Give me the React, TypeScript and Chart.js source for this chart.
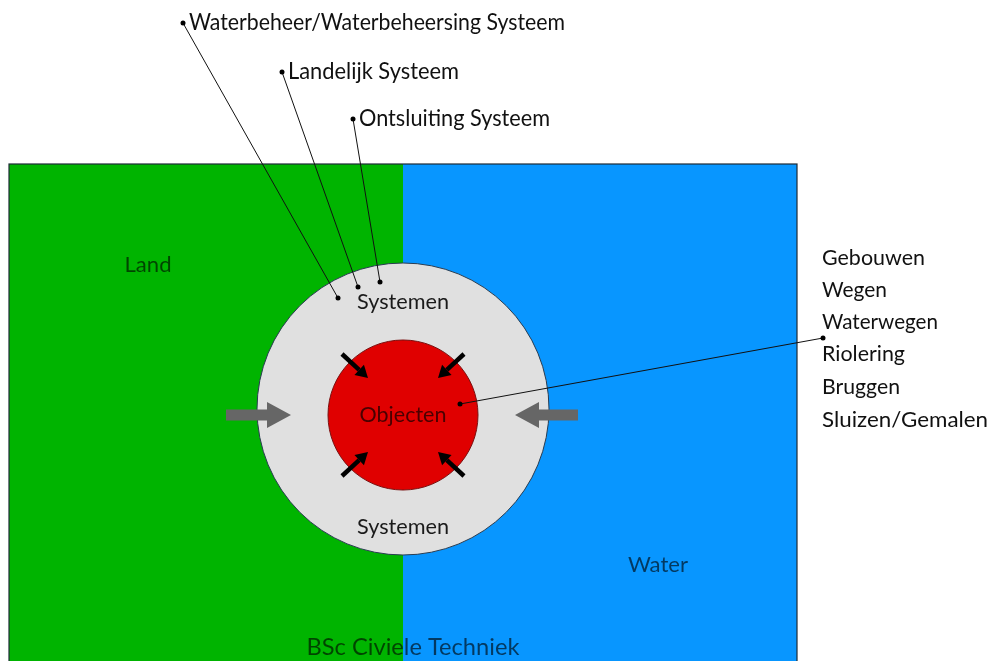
import React, { useEffect, useRef } from "react";
import { Chart, registerables } from "chart.js";

Chart.register(...registerables);

// ---- data (diagram units) ----
const zoneNames = ["Land", "Water"];
const zoneFrom = [9, 403];
const zoneTo = [403, 797];
const zoneTop = 164;
const zoneBottom = 672;
const zoneLabelX = [148, 658];
const zoneLabelY = [265, 565];

const circleNames = ["Systemen", "Objecten"];
const circleCX = [403, 403];
const circleCY = [409, 415];
const circleR = [146, 75];
const systemLabelY = [302, 527];

const calloutLabels = ["Waterbeheer/Waterbeheersing Systeem", "Landelijk Systeem", "Ontsluiting Systeem"];
const calloutFromX = [183, 282, 353];
const calloutFromY = [23, 72, 119];
const calloutToX = [338, 358, 380];
const calloutToY = [298, 287, 282];

const objectNames = ["Gebouwen", "Wegen", "Waterwegen", "Riolering", "Bruggen", "Sluizen/Gemalen"];
const objectRowY = [258, 290, 322, 354, 387, 420];
const objectLineFrom = { x: 823, y: 338 };
const objectLineTo = { x: 460, y: 404 };

const innerArrowFromX = [342, 464, 342, 464];
const innerArrowFromY = [354, 354, 476, 476];
const innerArrowToX = [368, 438, 368, 438];
const innerArrowToY = [378, 378, 452, 452];

const outerArrowFromX = [226, 578];
const outerArrowToX = [291, 515];
const outerArrowY = [415, 415];

const footerLabel = "BSc Civiele Techniek";

// ---- styling ----
const FONT = "Lato, 'Open Sans', sans-serif";
const COLORS = {
  land: "#00b400",
  water: "#0896ff",
  ring: "#e0e0e0",
  core: "#e00000",
  outline: "#2a3d52",
  grayArrow: "#666666",
};

const textWidths: Record<string, number> = {
  "Waterbeheer/Waterbeheersing Systeem": 376,
  "Landelijk Systeem": 171,
  "Ontsluiting Systeem": 191,
  Land: 47,
  Water: 60,
  Systemen: 92,
  Objecten: 87,
  Gebouwen: 103,
  Wegen: 65,
  Waterwegen: 116,
  Riolering: 83,
  Bruggen: 78,
  "Sluizen/Gemalen": 166,
  "BSc Civiele Techniek": 213,
};

function drawText(ctx: CanvasRenderingContext2D, text: string, x: number, y: number, size: number, color: string, align: "left" | "center") {
  ctx.save();
  ctx.font = `${size}px ${FONT}`;
  ctx.fillStyle = color;
  ctx.textBaseline = "middle";
  const w = ctx.measureText(text).width;
  const target = textWidths[text] ?? w;
  const sx = target / w;
  const left = align === "center" ? x - target / 2 : x;
  ctx.translate(left, y);
  ctx.scale(sx, 1);
  ctx.textAlign = "left";
  ctx.fillText(text, 0, 0);
  ctx.restore();
}

const diagramPlugin = {
  id: "diagram",
  beforeDatasetsDraw(chart: any) {
    const { ctx, scales } = chart;
    const X = (v: number) => scales.x.getPixelForValue(v);
    const Y = (v: number) => scales.y.getPixelForValue(v);
    const zoneColors = [COLORS.land, COLORS.water];
    ctx.save();
    zoneNames.forEach((_, i) => {
      ctx.fillStyle = zoneColors[i];
      ctx.fillRect(X(zoneFrom[i]), Y(zoneTop), X(zoneTo[i]) - X(zoneFrom[i]), Y(zoneBottom) - Y(zoneTop));
    });
    ctx.strokeStyle = "#1d2a36";
    ctx.lineWidth = 1.2;
    ctx.strokeRect(X(zoneFrom[0]), Y(zoneTop), X(zoneTo[1]) - X(zoneFrom[0]), Y(zoneBottom) - Y(zoneTop));

    const circleColors = [COLORS.ring, COLORS.core];
    circleNames.forEach((_, i) => {
      const r = X(circleCX[i] + circleR[i]) - X(circleCX[i]);
      ctx.beginPath();
      ctx.arc(X(circleCX[i]), Y(circleCY[i]), r, 0, Math.PI * 2);
      ctx.fillStyle = circleColors[i];
      ctx.fill();
      ctx.strokeStyle = i === 0 ? COLORS.outline : "#7a1010";
      ctx.lineWidth = 1;
      ctx.stroke();
    });

    // gray block arrows
    outerArrowFromX.forEach((fx, i) => {
      const tx = outerArrowToX[i];
      const y = Y(outerArrowY[i]);
      const dir = Math.sign(tx - fx);
      const x0 = X(fx), x1 = X(tx);
      const headLen = 24;
      const xb = x1 - dir * headLen;
      ctx.beginPath();
      ctx.moveTo(x0, y - 5.5);
      ctx.lineTo(xb, y - 5.5);
      ctx.lineTo(xb, y - 13);
      ctx.lineTo(x1, y);
      ctx.lineTo(xb, y + 13);
      ctx.lineTo(xb, y + 5.5);
      ctx.lineTo(x0, y + 5.5);
      ctx.closePath();
      ctx.fillStyle = COLORS.grayArrow;
      ctx.fill();
    });

    // black inner arrows
    innerArrowFromX.forEach((fx, i) => {
      const x0 = X(fx), y0 = Y(innerArrowFromY[i]);
      const x1 = X(innerArrowToX[i]), y1 = Y(innerArrowToY[i]);
      const ang = Math.atan2(y1 - y0, x1 - x0);
      const head = 12;
      const bx = x1 - Math.cos(ang) * head;
      const by = y1 - Math.sin(ang) * head;
      ctx.strokeStyle = "#000";
      ctx.lineWidth = 4.5;
      ctx.beginPath();
      ctx.moveTo(x0, y0);
      ctx.lineTo(bx, by);
      ctx.stroke();
      const px = -Math.sin(ang), py = Math.cos(ang);
      ctx.beginPath();
      ctx.moveTo(x1, y1);
      ctx.lineTo(bx + px * 7, by + py * 7);
      ctx.lineTo(bx - px * 7, by - py * 7);
      ctx.closePath();
      ctx.fillStyle = "#000";
      ctx.fill();
    });
    ctx.restore();
  },
  afterDatasetsDraw(chart: any) {
    const { ctx, scales } = chart;
    const X = (v: number) => scales.x.getPixelForValue(v);
    const Y = (v: number) => scales.y.getPixelForValue(v);
    const labelColor = "rgba(0,0,0,0.62)";
    zoneNames.forEach((n, i) => drawText(ctx, n, X(zoneLabelX[i]), Y(zoneLabelY[i]), 21, labelColor, "center"));
    systemLabelY.forEach((y) => drawText(ctx, circleNames[0], X(circleCX[0]), Y(y), 21, "#1a1a1a", "center"));
    drawText(ctx, circleNames[1], X(circleCX[1]), Y(circleCY[1]), 21, "#4a0000", "center");
    calloutLabels.forEach((t, i) => drawText(ctx, t, X(calloutFromX[i] + 6), Y(calloutFromY[i]), 23, "#111", "left"));
    objectNames.forEach((t, i) => drawText(ctx, t, X(822), Y(objectRowY[i]), 22, "#111", "left"));
    drawText(ctx, footerLabel, X(413), Y(648), 23, labelColor, "center");
  },
};

export default function App() {
  const ref = useRef<HTMLCanvasElement>(null);
  useEffect(() => {
    if (!ref.current) return;
    const lineSets = calloutLabels.map((label, i) => ({
      label,
      data: [
        { x: calloutFromX[i], y: calloutFromY[i] },
        { x: calloutToX[i], y: calloutToY[i] },
      ],
      showLine: true,
      borderColor: "#111",
      backgroundColor: "#000",
      borderWidth: 1,
      pointRadius: 2.5,
      pointBorderWidth: 0,
    }));
    lineSets.push({
      label: "Objecten",
      data: [objectLineFrom, objectLineTo],
      showLine: true,
      borderColor: "#111",
      backgroundColor: "#000",
      borderWidth: 1,
      pointRadius: 2.5,
      pointBorderWidth: 0,
    });
    const chart = new Chart(ref.current, {
      type: "scatter",
      data: { datasets: lineSets as any },
      options: {
        animation: false,
        responsive: false,
        devicePixelRatio: 1,
        layout: { padding: 0, autoPadding: false },
        plugins: { legend: { display: false }, tooltip: { enabled: false } },
        scales: {
          x: { type: "linear", min: 0, max: 989, display: false },
          y: { type: "linear", min: 0, max: 661, reverse: true, display: false },
        },
      } as any,
      plugins: [diagramPlugin],
    });
    return () => chart.destroy();
  }, []);
  return (
    <div style={{ position: "absolute", left: 0, top: 0, width: 989, height: 661, background: "#fff" }}>
      <canvas ref={ref} width={989} height={661} style={{ width: 989, height: 661, display: "block" }} />
    </div>
  );
}
